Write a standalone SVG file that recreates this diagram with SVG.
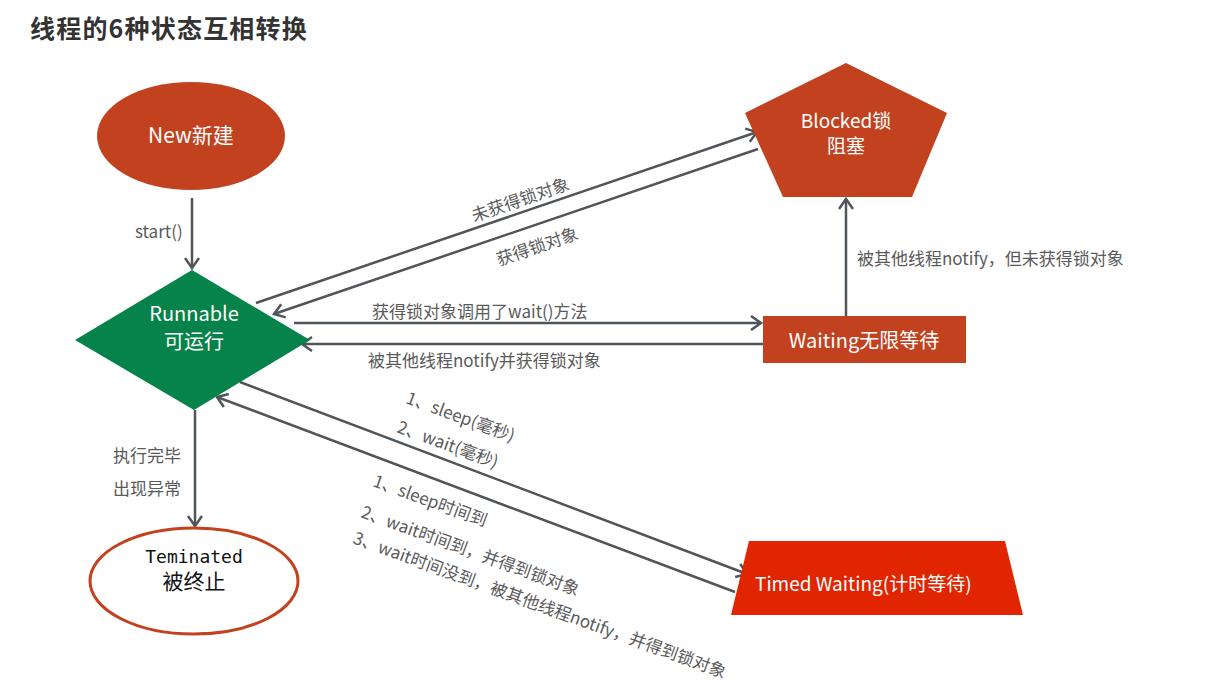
<svg xmlns="http://www.w3.org/2000/svg" width="1217" height="680" viewBox="0 0 1217 680">
<defs>
<marker id="arr" markerUnits="userSpaceOnUse" markerWidth="14" markerHeight="16" refX="11" refY="8" orient="auto">
<path d="M1,1 L11,8 L1,15" fill="none" stroke="#50555a" stroke-width="2.5" stroke-linejoin="miter"/>
</marker>
<style>
.ln{stroke:#50555a;stroke-width:2.5;fill:none}
.lbl{font-family:"Noto Sans CJK SC","Noto Sans",sans-serif;font-size:17px;fill:#5a5a5a}
.nt{font-family:"Noto Sans CJK SC","Noto Sans",sans-serif;fill:#fff;text-anchor:middle}
.red{fill:#c2421f}
</style>
</defs>
<rect width="1217" height="680" fill="#fff"/>
<text x="30" y="38" font-family="Noto Sans CJK SC,sans-serif" font-weight="bold" font-size="25" letter-spacing="1.2" fill="#333">线程的6种状态互相转换</text>

<g id="connectors">
<line class="ln" x1="192" y1="198" x2="192" y2="268" marker-end="url(#arr)"/>
<line class="ln" x1="195" y1="410" x2="195" y2="526" marker-end="url(#arr)"/>
<line class="ln" x1="256" y1="303" x2="757" y2="132" marker-end="url(#arr)"/>
<line class="ln" x1="758" y1="149" x2="274" y2="314" marker-end="url(#arr)"/>
<line class="ln" x1="294" y1="323" x2="761" y2="323" marker-end="url(#arr)"/>
<line class="ln" x1="763" y1="344" x2="302" y2="344" marker-end="url(#arr)"/>
<line class="ln" x1="846" y1="316" x2="846" y2="199" marker-end="url(#arr)"/>
<line class="ln" x1="240" y1="382" x2="747" y2="574" marker-end="url(#arr)"/>
<line class="ln" x1="735" y1="592" x2="217" y2="397" marker-end="url(#arr)"/>
<text class="lbl" x="135" y="238" font-size="15">start()</text>
<text class="lbl" x="113" y="462">执行完毕</text>
<text class="lbl" x="113" y="495">出现异常</text>
<text class="lbl" transform="translate(474,222) rotate(-18.8)">未获得锁对象</text>
<text class="lbl" transform="translate(499,266) rotate(-18.8)">获得锁对象</text>
<text class="lbl" x="372" y="318">获得锁对象调用了wait()方法</text>
<text class="lbl" x="368" y="367">被其他线程notify并获得锁对象</text>
<text class="lbl" x="857" y="265">被其他线程notify，但未获得锁对象</text>
<text class="lbl" font-size="16" transform="translate(405,403) rotate(20)">1、sleep(毫秒)</text>
<text class="lbl" font-size="16" transform="translate(396,432) rotate(20)">2、wait(毫秒)</text>
<text class="lbl" font-size="16" transform="translate(372,486) rotate(20)">1、sleep时间到</text>
<text class="lbl" font-size="16" transform="translate(360,517) rotate(20)">2、wait时间到，并得到锁对象</text>
<text class="lbl" font-size="16" transform="translate(352,543) rotate(20)">3、wait时间没到，被其他线程notify，并得到锁对象</text>
</g>

<g id="new">
<ellipse class="red" cx="191" cy="136" rx="94" ry="54"/>
<text class="nt" x="191" y="143" font-size="21">New新建</text>
</g>

<g id="runnable">
<polygon points="192,270 310,340 194,410 75,340" fill="#05834a"/>
<text class="nt" x="194" y="321" font-size="20">Runnable</text>
<text class="nt" x="194" y="349" font-size="20">可运行</text>
</g>

<g id="blocked">
<polygon class="red" points="846,63 947,113 912,197 783,197 745,113"/>
<text class="nt" x="846" y="128" font-size="19">Blocked锁</text>
<text class="nt" x="846" y="153" font-size="19">阻塞</text>
</g>

<g id="waiting">
<rect class="red" x="763" y="316" width="203" height="47"/>
<text class="nt" x="864" y="348" font-size="20">Waiting无限等待</text>
</g>

<g id="timed">
<polygon points="749,541 1005,541 1023,615 731,615" fill="#e02500"/>
<text class="nt" x="755" y="591" font-size="19" style="text-anchor:start">Timed Waiting(计时等待)</text>
</g>

<g id="terminated">
<ellipse cx="194" cy="581" rx="104" ry="53" fill="#fff" stroke="#c2421f" stroke-width="3"/>
<text x="194" y="563" font-family="DejaVu Sans Mono,monospace" font-size="18" text-anchor="middle" fill="#111">Teminated</text>
<text x="194" y="589" font-family="Noto Sans CJK SC,sans-serif" font-size="21" text-anchor="middle" fill="#111">被终止</text>
</g>
</svg>
